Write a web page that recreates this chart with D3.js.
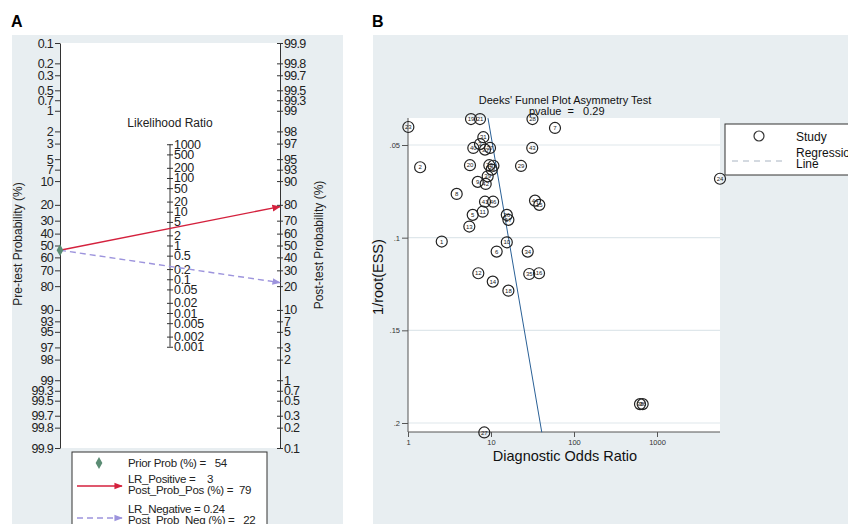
<!DOCTYPE html>
<html>
<head>
<meta charset="utf-8">
<script src="https://cdn.jsdelivr.net/npm/d3@7"></script>
<style>
  body { margin: 0; background: #fff; }
  svg { font-family: "Liberation Sans", Arial, sans-serif; }
</style>
</head>
<body>
<script>
// ---- panel A data (Fagan nomogram) ----
var preTicks = [0.1, 0.2, 0.3, 0.5, 0.7, 1, 2, 3, 5, 7, 10, 20, 30, 40, 50, 60, 70, 80, 90, 93, 95, 97, 98, 99, 99.3, 99.5, 99.7, 99.8, 99.9];
var postTicks = [99.9, 99.8, 99.7, 99.5, 99.3, 99, 98, 97, 95, 93, 90, 80, 70, 60, 50, 40, 30, 20, 10, 7, 5, 3, 2, 1, 0.7, 0.5, 0.3, 0.2, 0.1];
var lrTicks = [1000, 500, 200, 100, 50, 20, 10, 5, 2, 1, 0.5, 0.2, 0.1, 0.05, 0.02, 0.01, 0.005, 0.002, 0.001];
var priorProb = 54;
var lrPositive = 3, postProbPos = 79;
var lrNegative = 0.24, postProbNeg = 22;

// ---- panel B data (Deeks' funnel plot) ----
var studyIds = ["23", "19", "21", "28", "7", "31", "40", "3", "30", "37", "43", "2", "20", "22", "32", "33", "29", "39", "9", "42", "8", "41", "46", "44", "15", "5", "11", "26", "17", "13", "1", "10", "6", "34", "12", "35", "16", "14", "18", "24", "27", "38", "36"];
var studyDOR = [1.01, 5.74, 7.37, 31.6, 59.0, 8.08, 6.12, 7.37, 8.47, 9.73, 31.4, 1.40, 5.58, 9.54, 10.7, 10.2, 23.0, 9.12, 6.92, 8.63, 3.86, 8.47, 10.6, 33.9, 38.2, 6.02, 7.94, 15.5, 16.2, 5.48, 2.55, 15.5, 11.7, 27.7, 7.03, 28.9, 37.9, 10.5, 16.2, 5741, 8.3, 624, 672];
var studyInvRootESS = [0.0403, 0.0360, 0.0360, 0.0360, 0.0408, 0.0458, 0.0516, 0.0495, 0.0525, 0.0516, 0.0516, 0.0620, 0.0609, 0.0609, 0.0612, 0.0633, 0.0613, 0.0669, 0.0699, 0.0710, 0.0764, 0.0806, 0.0806, 0.0800, 0.0823, 0.0877, 0.0860, 0.0877, 0.0904, 0.0940, 0.1021, 0.1025, 0.1075, 0.1075, 0.1192, 0.1196, 0.1192, 0.1237, 0.1286, 0.0682, 0.2051, 0.1898, 0.1898];
var regInvRootESS = [0.0355, 0.2050];
var regDOR = [9.2, 40.9];
var xTicksB = [1, 10, 100, 1000];
var yTicksB = [0.05, 0.1, 0.15, 0.2];
var pvalue = 0.29;

var bg = "#e8eef1", axisCol = "#333";

var svg = d3.select("body").append("svg")
    .attr("width", 848)
    .attr("height", 524);

// panel backgrounds
svg.append("rect").attr("x", 12).attr("y", 35).attr("width", 331).attr("height", 489).attr("fill", bg);
svg.append("rect").attr("x", 373).attr("y", 35).attr("width", 475).attr("height", 489).attr("fill", bg);

svg.append("text").attr("x", 11).attr("y", 27).attr("font-size", 16).attr("font-weight", "bold").text("A");
svg.append("text").attr("x", 372).attr("y", 27).attr("font-size", 16).attr("font-weight", "bold").text("B");

// =============== panel A ===============
function logit(p) { return Math.log(p / (100 - p)); }
var L = logit(99.9);
var xL = 60, xR = 280, xM = 170, yTop = 43, yBot = 448;

svg.append("rect").attr("x", xL).attr("y", yTop).attr("width", xR - xL).attr("height", yBot - yTop).attr("fill", "#fff");

var yPre = d3.scaleLinear().domain([-L, L]).range([yTop, yBot]);
var yPost = d3.scaleLinear().domain([L, -L]).range([yTop, yBot]);
var yLR = d3.scaleLinear().domain([2 * L, -2 * L]).range([yTop, yBot]);

var gA = svg.append("g").attr("font-size", 11);

var leftAx = gA.append("g").attr("transform", "translate(" + xL + ",0)")
    .call(d3.axisLeft(yPre).tickValues(preTicks.map(logit))
      .tickFormat(function(d, i) { return preTicks[i]; })
      .tickSize(5).tickSizeOuter(0).tickPadding(2));

var rightAx = gA.append("g").attr("transform", "translate(" + xR + ",0)")
    .call(d3.axisRight(yPost).tickValues(postTicks.map(logit))
      .tickFormat(function(d, i) { return postTicks[i]; })
      .tickSize(3).tickSizeOuter(0).tickPadding(1));
rightAx.selectAll(".tick line").attr("x1", -3);

var midAx = gA.append("g").attr("transform", "translate(" + xM + ",0)")
    .call(d3.axisRight(yLR).tickValues(lrTicks.map(Math.log))
      .tickFormat(function(d, i) { return lrTicks[i]; })
      .tickSize(3).tickSizeOuter(0).tickPadding(1));
midAx.selectAll(".tick line").attr("x1", -3);
midAx.select(".domain").attr("d", "M0," + yLR(Math.log(1000)) + "V" + yLR(Math.log(0.001)));

[leftAx, rightAx, midAx].forEach(function(a) {
  a.attr("font-size", 12.5).attr("font-family", null);
  a.selectAll("path, line").attr("stroke", axisCol);
  a.selectAll("text").attr("fill", "#222");
});
leftAx.selectAll("text").attr("letter-spacing", -0.7);
rightAx.selectAll("text").attr("letter-spacing", -0.7);
midAx.selectAll("text").attr("letter-spacing", -0.3);

gA.append("text").attr("x", xM).attr("y", 127).attr("text-anchor", "middle").attr("font-size", 12).attr("fill", "#222").text("Likelihood Ratio");

gA.append("text").attr("transform", "translate(22,244) rotate(-90)").attr("text-anchor", "middle").attr("font-size", 12).attr("fill", "#222")
  .text("Pre-test Probability (%)");
gA.append("text").attr("transform", "translate(323,245) rotate(-90)").attr("text-anchor", "middle").attr("font-size", 12).attr("fill", "#222")
  .text("Post-test Probability (%)");

var red = "#d4213d", lav = "#9d94dd", grn = "#5b8c74";
var defs = svg.append("defs");
function arrow(id, col) {
  defs.append("marker").attr("id", id).attr("viewBox", "0 0 10 10").attr("refX", 9).attr("refY", 5)
    .attr("markerWidth", 6).attr("markerHeight", 6).attr("orient", "auto")
    .append("path").attr("d", "M0,1 L10,5 L0,9 Z").attr("fill", col);
}
arrow("arRed", red);
arrow("arLav", lav);

var priorY = yPre(logit(priorProb));
gA.append("line").attr("x1", xL).attr("y1", priorY).attr("x2", xR).attr("y2", yPost(logit(postProbPos)))
  .attr("stroke", red).attr("stroke-width", 1.4).attr("marker-end", "url(#arRed)");
gA.append("line").attr("x1", xL).attr("y1", priorY).attr("x2", xR).attr("y2", yPost(logit(postProbNeg)))
  .attr("stroke", lav).attr("stroke-width", 1.4).attr("stroke-dasharray", "6,4").attr("marker-end", "url(#arLav)");
var diamond = d3.symbol().type(d3.symbolDiamond).size(40);
gA.append("path").attr("d", diamond()).attr("transform", "translate(" + xL + "," + priorY + ")").attr("fill", grn);

// legend A
var lg = gA.append("g");
lg.append("rect").attr("x", 72).attr("y", 452).attr("width", 195).attr("height", 90).attr("fill", "#fff").attr("stroke", axisCol);
lg.append("path").attr("d", diamond()).attr("transform", "translate(99,463)").attr("fill", grn);
lg.append("line").attr("x1", 77).attr("x2", 122).attr("y1", 486).attr("y2", 486).attr("stroke", red).attr("stroke-width", 1.4).attr("marker-end", "url(#arRed)");
lg.append("line").attr("x1", 77).attr("x2", 122).attr("y1", 518).attr("y2", 518).attr("stroke", lav).attr("stroke-width", 1.4).attr("stroke-dasharray", "6,4").attr("marker-end", "url(#arLav)");
var legLines = [
  ["Prior Prob (%) =   " + priorProb, 467],
  ["LR_Positive =    " + lrPositive, 483],
  ["Post_Prob_Pos (%) =  " + postProbPos, 494],
  ["LR_Negative = " + lrNegative, 513],
  ["Post_Prob_Neg (%) =   " + postProbNeg, 524]
];
legLines.forEach(function(l) {
  lg.append("text").attr("x", 128).attr("y", l[1]).attr("font-size", 11.5).attr("letter-spacing", -0.3)
    .attr("fill", "#222").style("white-space", "pre").text(l[0]);
});

// =============== panel B ===============
var bL = 408, bR = 720, bT = 118, bB = 432;
var xB = d3.scaleLog().domain([1, 1000]).range([bL, 657]);
var yB = d3.scaleLinear().domain([0.05, 0.2]).range([145, 423]);

var gB = svg.append("g");
gB.append("rect").attr("x", bL).attr("y", bT).attr("width", bR - bL).attr("height", bB - bT).attr("fill", "#fff");

gB.selectAll(".grid").data(yTicksB).enter().append("line")
  .attr("x1", bL).attr("x2", bR).attr("y1", function(d) { return yB(d); }).attr("y2", function(d) { return yB(d); })
  .attr("stroke", "#dfe7eb").attr("stroke-width", 1.2);

var xAxB = gB.append("g").attr("transform", "translate(0," + bB + ")")
  .call(d3.axisBottom(xB).tickValues(xTicksB).tickFormat(d3.format("d")).tickSize(5).tickSizeOuter(0).tickPadding(3));
xAxB.select(".domain").attr("d", "M" + bL + ",0H" + bR);
var yAxB = gB.append("g").attr("transform", "translate(" + bL + ",0)")
  .call(d3.axisLeft(yB).tickValues(yTicksB).tickFormat(function(d) { return d3.format(".2~f")(d).replace(/^0/, ""); })
    .tickSize(6).tickSizeOuter(0).tickPadding(2));
yAxB.select(".domain").attr("d", "M0," + bT + "V" + bB);
[xAxB, yAxB].forEach(function(a) {
  a.attr("font-size", 7.5).attr("font-family", null);
  a.selectAll("path, line").attr("stroke", "#555");
  a.selectAll("text").attr("fill", "#333");
});

gB.append("text").attr("x", 565).attr("y", 461).attr("text-anchor", "middle").attr("font-size", 14.5).attr("fill", "#111")
  .text("Diagnostic Odds Ratio");
gB.append("text").attr("transform", "translate(383,277) rotate(-90)").attr("text-anchor", "middle").attr("font-size", 14.5).attr("fill", "#111")
  .text("1/root(ESS)");
gB.append("text").attr("x", 565).attr("y", 104).attr("text-anchor", "middle").attr("font-size", 11).attr("fill", "#111")
  .text("Deeks' Funnel Plot Asymmetry Test");
gB.append("text").attr("x", 529).attr("y", 115).attr("font-size", 11).attr("fill", "#111").style("white-space", "pre")
  .text("pvalue  =   " + pvalue);

// regression line
var line = d3.line().x(function(d) { return xB(d[0]); }).y(function(d) { return yB(d[1]); });
gB.append("path").datum(d3.zip(regDOR, regInvRootESS)).attr("d", line)
  .attr("fill", "none").attr("stroke", "#2a6096").attr("stroke-width", 1);

// study circles
var pts = gB.selectAll(".study").data(studyIds).enter().append("g")
  .attr("transform", function(d, i) { return "translate(" + xB(studyDOR[i]) + "," + yB(studyInvRootESS[i]) + ")"; });
pts.append("circle").attr("r", 5.5).attr("fill", "none").attr("stroke", "#222").attr("stroke-width", 1.2);
pts.append("text").attr("text-anchor", "middle").attr("dy", "0.35em").attr("font-size", 6).attr("fill", "#222")
  .text(function(d) { return d; });

// legend B
var lgB = gB.append("g");
lgB.append("rect").attr("x", 725).attr("y", 124).attr("width", 140).attr("height", 51).attr("fill", "#fff").attr("stroke", axisCol);
lgB.append("circle").attr("cx", 759).attr("cy", 136).attr("r", 5).attr("fill", "none").attr("stroke", "#333").attr("stroke-width", 1.2);
lgB.append("line").attr("x1", 732).attr("x2", 787).attr("y1", 161).attr("y2", 161).attr("stroke", "#a9b4c2").attr("stroke-dasharray", "6,5");
lgB.append("text").attr("x", 796).attr("y", 141).attr("font-size", 12).attr("fill", "#111").text("Study");
lgB.append("text").attr("x", 796).attr("y", 157).attr("font-size", 12).attr("fill", "#111").text("Regression");
lgB.append("text").attr("x", 796).attr("y", 168).attr("font-size", 12).attr("fill", "#111").text("Line");
</script>
</body>
</html>
